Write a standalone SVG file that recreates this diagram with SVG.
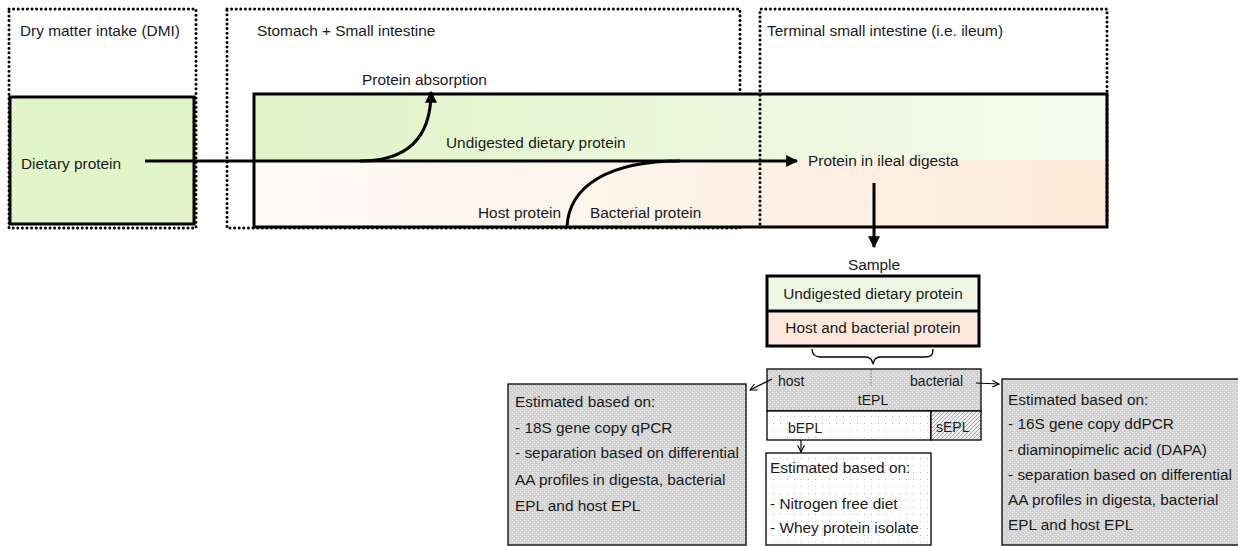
<svg xmlns="http://www.w3.org/2000/svg" width="1238" height="546" viewBox="0 0 1238 546">
<style>
text{font-family:"Liberation Sans",Arial,sans-serif;fill:#1a1a1a}
.t15{font-size:15.4px}
.t14{font-size:14px}
.dot{fill:none;stroke:#000;stroke-width:3;stroke-linecap:round;stroke-dasharray:0 4.6}
.thick{fill:none;stroke:#000;stroke-width:3}
.thin{fill:none;stroke:#000;stroke-width:1.3}
.conn{fill:none;stroke:#000;stroke-width:3}
.sconn{fill:none;stroke:#000;stroke-width:1.2}
</style>
<defs>
<linearGradient id="gGreen" x1="0" x2="1" y1="0" y2="0">
<stop offset="0" stop-color="#dff3c6"/>
<stop offset="1" stop-color="#f5fbee"/>
</linearGradient>
<linearGradient id="gPeach" x1="0" x2="1" y1="0" y2="0">
<stop offset="0" stop-color="#fdfaf6"/>
<stop offset="1" stop-color="#fdebd9"/>
</linearGradient>
<pattern id="pGray" width="4" height="4" patternUnits="userSpaceOnUse">
<rect width="4" height="4" fill="#d2d2d2"/>
<rect x="0" y="0" width="1" height="1" fill="#f4f4f4"/>
<rect x="2" y="2" width="1" height="1" fill="#f4f4f4"/>
</pattern>
<pattern id="pLight" width="7" height="7" patternUnits="userSpaceOnUse">
<rect width="7" height="7" fill="#ffffff"/>
<rect x="3" y="3" width="1" height="1" fill="#b8b8b8"/>
</pattern>
<pattern id="pHatch" width="4" height="4" patternUnits="userSpaceOnUse">
<rect width="4" height="4" fill="#f0f0f0"/>
<path d="M0,4 L4,0 M-1,1 L1,-1 M3,5 L5,3" stroke="#9a9a9a" stroke-width="0.8"/>
</pattern>
<marker id="aFill" viewBox="0 0 10 10" refX="9" refY="5" markerWidth="4" markerHeight="4" orient="auto" markerUnits="strokeWidth">
<path d="M0,0 L10,5 L0,10 z" fill="#000"/>
</marker>
<marker id="aOpen" viewBox="0 0 10 10" refX="9" refY="5" markerWidth="7" markerHeight="7" orient="auto" markerUnits="strokeWidth">
<path d="M1,1 L9,5 L1,9" fill="none" stroke="#000" stroke-width="1.3"/>
</marker>
</defs>

<g id="region-dmi">
<rect class="dot" x="9" y="9" width="187" height="219"/>
<text class="t15" x="20" y="36">Dry matter intake (DMI)</text>
</g>
<g id="region-stomach">
<rect class="dot" x="227" y="9" width="513" height="219"/>
<text class="t15" x="257" y="36">Stomach + Small intestine</text>
</g>

<g id="node-digesta-band">
<rect x="254" y="94" width="853" height="66" fill="url(#gGreen)"/>
<rect x="254" y="160" width="853" height="67" fill="url(#gPeach)"/>
<rect class="thick" x="254" y="94" width="853" height="133"/>
</g>

<g id="region-ileum">
<path class="dot" d="M760,224 L760,9 L1107,9 L1107,224"/>
<text class="t15" x="767" y="36">Terminal small intestine (i.e. ileum)</text>
</g>

<g id="node-dietary">
<rect x="10" y="97" width="184" height="127" fill="#e2f5c8" stroke="#000" stroke-width="3"/>
<text class="t15" x="21" y="169">Dietary protein</text>
</g>

<g id="labels-flow">
<text class="t15" x="362" y="85">Protein absorption</text>
<text class="t15" x="446" y="148">Undigested dietary protein</text>
<text class="t15" x="478" y="218">Host protein</text>
<text class="t15" x="590" y="218">Bacterial protein</text>
<text class="t15" x="808" y="166">Protein in ileal digesta</text>
</g>

<g id="node-sample">
<text class="t15" x="874" y="270" text-anchor="middle">Sample</text>
<rect x="767" y="276" width="212" height="35" fill="#eef7e4"/>
<rect x="767" y="311" width="212" height="35" fill="#fde9dc"/>
<rect class="thick" x="767" y="276" width="212" height="70"/>
<line class="thick" x1="767" y1="311" x2="979" y2="311"/>
<text class="t15" x="873" y="299" text-anchor="middle">Undigested dietary protein</text>
<text class="t15" x="873" y="333" text-anchor="middle">Host and bacterial protein</text>
</g>

<g id="node-tepl">
<rect x="767" y="369" width="214" height="42" fill="url(#pGray)" stroke="#000" stroke-width="1.3"/>
<line x1="871" y1="370" x2="871" y2="386" stroke="#777" stroke-width="1" stroke-dasharray="1.5 1.5"/>
<text class="t14" x="778" y="386">host</text>
<text class="t14" x="963" y="386" text-anchor="end">bacterial</text>
<text class="t14" x="873" y="405" text-anchor="middle">tEPL</text>
</g>
<g id="node-bepl">
<rect x="767" y="411" width="164" height="29" fill="url(#pLight)" stroke="#000" stroke-width="1.3"/>
<text class="t14" x="788" y="433">bEPL</text>
</g>
<g id="node-sepl">
<rect x="931" y="411" width="50" height="29" fill="url(#pHatch)" stroke="#000" stroke-width="1.3"/>
<text class="t14" x="936" y="432">sEPL</text>
</g>

<g id="node-host-est">
<rect x="508" y="384" width="238" height="161" fill="url(#pGray)" stroke="#000" stroke-width="1.3"/>
<text class="t15" x="515" y="407">Estimated based on:</text>
<text class="t15" x="515" y="433">- 18S gene copy qPCR</text>
<text class="t15" x="515" y="458">- separation based on differential</text>
<text class="t15" x="515" y="485">AA profiles in digesta, bacterial</text>
<text class="t15" x="515" y="511">EPL and host EPL</text>
</g>

<g id="node-bepl-est">
<rect x="766" y="453" width="165" height="92" fill="url(#pLight)" stroke="#000" stroke-width="1.3"/>
<text class="t15" x="770" y="473">Estimated based on:</text>
<text class="t15" x="770" y="509">- Nitrogen free diet</text>
<text class="t15" x="770" y="533">- Whey protein isolate</text>
</g>

<g id="node-bact-est">
<rect x="1002" y="379" width="240" height="166" fill="url(#pGray)" stroke="#000" stroke-width="1.3"/>
<text class="t15" x="1008" y="405">Estimated based on:</text>
<text class="t15" x="1008" y="429">- 16S gene copy ddPCR</text>
<text class="t15" x="1008" y="455">- diaminopimelic acid (DAPA)</text>
<text class="t15" x="1008" y="480">- separation based on differential</text>
<text class="t15" x="1008" y="505">AA profiles in digesta, bacterial</text>
<text class="t15" x="1008" y="530">EPL and host EPL</text>
</g>

<g id="connectors">
<path class="conn" d="M145,161 L797,161" marker-end="url(#aFill)"/>
<path class="conn" d="M360,161 C405,161 431,140 431,92" marker-end="url(#aFill)"/>
<path class="conn" d="M567,227 C569,185 610,161 680,161"/>
<path class="conn" d="M874,183 L874,247" marker-end="url(#aFill)"/>
<path class="thin" d="M812,349 C812,355 815,357 821,357 L866,357 C870,357 872,359 873,364 C874,359 876,357 880,357 L925,357 C931,357 933,355 933,349"/>
<path class="sconn" d="M772,379 L750,390" marker-end="url(#aOpen)"/>
<path class="sconn" d="M976,383 L999,384" marker-end="url(#aOpen)"/>
<path class="sconn" d="M801,440 L801,452" marker-end="url(#aOpen)"/>
</g>
</svg>
